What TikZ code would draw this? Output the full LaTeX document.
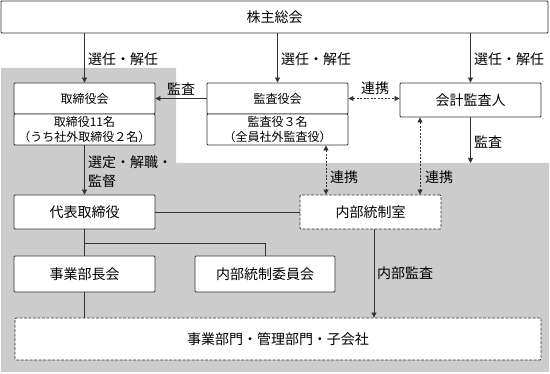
\documentclass[tikz,border=0pt]{standalone}
\usepackage{fontspec}
\setmainfont{Noto Sans CJK JP}
\usetikzlibrary{arrows.meta}
\begin{document}
\begin{tikzpicture}[x=1pt,y=-1pt,
  line/.style={draw=black!80, line width=0.9pt},
  box/.style={draw=black!80, line width=0.9pt, fill=white, rounded corners=1pt, inner sep=0pt, font=\fontsize{14}{16}\selectfont},
  sbox/.style={box, font=\fontsize{12}{15}\selectfont, align=center},
  dbox/.style={box, dash pattern=on 3pt off 1.5pt},
  arr/.style={line, -{Triangle[length=5pt,width=5pt]}},
  darr/.style={draw=black!80, line width=0.8pt, dash pattern=on 2pt off 1.5pt, {Triangle[length=5pt,width=5pt]}-{Triangle[length=5pt,width=5pt]}},
  lab/.style={anchor=west, inner sep=0pt, font=\fontsize{14}{18.5}\selectfont}
]
\useasboundingbox (0,0) rectangle (550,374);
\fill[black!20] (1,68) -- (176,68) -- (176,163) -- (549,163) -- (549,372) -- (1,372) -- cycle;

% nodes
\node[box, minimum width=547, minimum height=32] (sh) at (274.5,17) {株主総会};
\node[sbox, minimum width=141, minimum height=31] (tbt) at (84.5,98.5) {取締役会};
\node[sbox, minimum width=141, minimum height=31] (tbb) at (84.5,129.5) {取締役11名\\（うち社外取締役２名）};
\node[sbox, minimum width=141, minimum height=31] (kst) at (277.5,98.5) {監査役会};
\node[sbox, minimum width=141, minimum height=31] (ksb) at (277.5,129.5) {監査役３名\\（全員社外監査役）};
\node[box, minimum width=141, minimum height=34] (kk) at (470.5,100) {会計監査人};
\node[box, minimum width=141, minimum height=34] (dh) at (84.5,212) {代表取締役};
\node[dbox, minimum width=141, minimum height=34] (nb) at (370.5,212) {内部統制室};
\node[box, minimum width=141, minimum height=36] (jg) at (84.5,274) {事業部長会};
\node[box, minimum width=140, minimum height=36] (ii) at (265,274) {内部統制委員会};
\node[dbox, minimum width=526, minimum height=42] (bm) at (278,339) {事業部門・管理部門・子会社};

% connectors
\draw[arr] (sh.south -| tbt.north) -- (tbt.north);
\draw[arr] (sh.south -| kst.north) -- (kst.north);
\draw[arr] (sh.south -| kk.north) -- (kk.north);
\draw[arr] (kst.west) -- (tbt.east);
\draw[darr] (kst.east) -- (kst.east -| kk.west);
\coordinate (kkd) at (470.5,163);
\draw[arr] (kk.south) -- (kkd);
\draw[darr] ([xshift=48.5pt]ksb.south) -- ([xshift=48.5pt]ksb.south |- nb.north);
\draw[darr] ([xshift=-50.5pt]kk.south) -- ([xshift=-50.5pt]kk.south |- nb.north);
\draw[arr] (tbb.south) -- (dh.north);
\draw[line] (dh.east) -- (nb.west);
\draw[line] (dh.south) -- (jg.north);
\coordinate (br) at (84.5,243);
\draw[line] (br) -| (ii.north);
\draw[line] (jg.south) -- (jg.south |- bm.north);
\draw[arr] ([xshift=3.5pt]nb.south) -- ([xshift=3.5pt]nb.south |- bm.north);

% labels
\node[lab] (l1) at (88,59) {選任・解任};
\node[lab] (l2) at (281,59) {選任・解任};
\node[lab] (l3) at (474,59) {選任・解任};
\node[lab] (l4) at (167,89) {監査};
\node[lab] (l5) at (361,88) {連携};
\node[lab] (l6) at (474,142) {監査};
\node[lab] (l7) at (330,177) {連携};
\node[lab] (l8) at (425,177) {連携};
\node[lab, align=left] (l9) at (88,171.5) {選定・解職・\\監督};
\node[lab] (l10) at (377,273) {内部監査};
\end{tikzpicture}
\end{document}
